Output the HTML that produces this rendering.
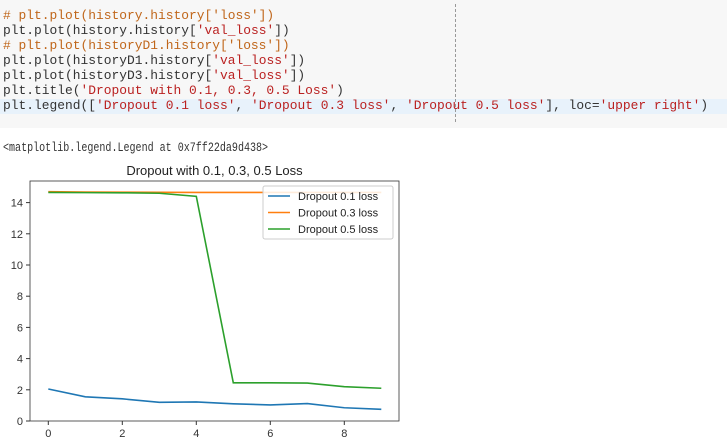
<!DOCTYPE html>
<html><head><meta charset="utf-8"><style>
body{margin:0;width:727px;height:448px;background:#fff;overflow:hidden;position:relative;font-family:"Liberation Sans",sans-serif}
#cell{position:absolute;left:0;top:0;width:727px;height:128px;background:#f7f7f7}
#hl{position:absolute;left:0;top:99px;width:727px;height:15px;background:#e8f2fb}
#ruler{position:absolute;left:455px;top:4px;height:118px;border-left:1px dashed #999}
.code{position:absolute;left:3px;font-family:"Liberation Mono",monospace;font-size:13.3px;line-height:15px;white-space:pre;color:#333;transform:scaleX(0.971);transform-origin:0 0}
.c{color:#c0661a}.s{color:#ba2121}
</style></head><body>
<div id="cell"></div>
<div id="hl"></div>
<div id="ruler"></div>
<div class="code" style="top:8px"><span class="c"># plt.plot(history.history['loss'])</span>
plt.plot(history.history[<span class="s">'val_loss'</span>])
<span class="c"># plt.plot(historyD1.history['loss'])</span>
plt.plot(historyD1.history[<span class="s">'val_loss'</span>])
plt.plot(historyD3.history[<span class="s">'val_loss'</span>])
plt.title(<span class="s">'Dropout with 0.1, 0.3, 0.5 Loss'</span>)
plt.legend([<span class="s">'Dropout 0.1 loss'</span>, <span class="s">'Dropout 0.3 loss'</span>, <span class="s">'Dropout 0.5 loss'</span>], loc=<span class="s">'upper right'</span>)</div>
<div class="code" style="top:140px;transform:scaleX(0.755)">&lt;matplotlib.legend.Legend at 0x7ff22da9d438&gt;</div>
<svg id="chart" width="727" height="448" style="position:absolute;left:0;top:0"></svg>
<script>
const epochs=[0,1,2,3,4,5,6,7,8,9];
const d1=[2.05,1.55,1.42,1.2,1.22,1.1,1.03,1.12,0.85,0.75];
const d3=[14.7,14.68,14.67,14.66,14.65,14.65,14.65,14.65,14.65,14.65];
const d5=[14.65,14.64,14.63,14.6,14.4,2.45,2.45,2.43,2.2,2.1];
const seriesNames=['Dropout 0.1 loss','Dropout 0.3 loss','Dropout 0.5 loss'];
const yTicks=[0,2,4,6,8,10,12,14];
const xTicks=[0,2,4,6,8];
const colors=['#1f77b4','#ff7f0e','#2ca02c'];
const L=30,R=399,T=181,B=421,ns='http://www.w3.org/2000/svg';
const xs=v=>48.3+v*37, ys=v=>B-v*15.6;
const svg=document.getElementById('chart');
function mk(t,a,p){const e=document.createElementNS(ns,t);for(const k in a)e.setAttribute(k,a[k]);(p||svg).appendChild(e);return e;}
const title=mk('text',{x:(L+R)/2,y:175,'text-anchor':'middle','font-size':13,fill:'#222'});
title.textContent='Dropout with 0.1, 0.3, 0.5 Loss';


yTicks.forEach(v=>{const y=ys(v);mk('line',{x1:L-4,x2:L,y1:y,y2:y,stroke:'#333'});
const t=mk('text',{x:L-7,y:y+4,'text-anchor':'end','font-size':11,fill:'#333'});t.textContent=v;

});
xTicks.forEach(v=>{const x=xs(v);mk('line',{x1:x,x2:x,y1:B,y2:B+4,stroke:'#333'});
const t=mk('text',{x:x,y:B+16,'text-anchor':'middle','font-size':11,fill:'#333'});t.textContent=v;

});
[d1,d3,d5].forEach((s,i)=>{const p=mk('polyline',{points:s.map((v,j)=>xs(epochs[j])+','+ys(v)).join(' '),fill:'none',stroke:colors[i],'stroke-width':1.6});

});
const box=mk('rect',{x:L,y:T,width:R-L,height:B-T,fill:'none',stroke:'#333','stroke-width':0.8});


const lg=mk('g',{});


mk('rect',{x:263,y:186,width:130,height:53,fill:'rgba(255,255,255,0.85)',stroke:'#ccc',rx:2},lg);
seriesNames.forEach((n,i)=>{const y=196+i*16.5;
const e=mk('g',{},lg);


mk('line',{x1:268,x2:290,y1:y,y2:y,stroke:colors[i],'stroke-width':1.6},e);
const t=mk('text',{x:298,y:y+4,'font-size':11,fill:'#222'},e);t.textContent=n;});
</script>
</body></html>
